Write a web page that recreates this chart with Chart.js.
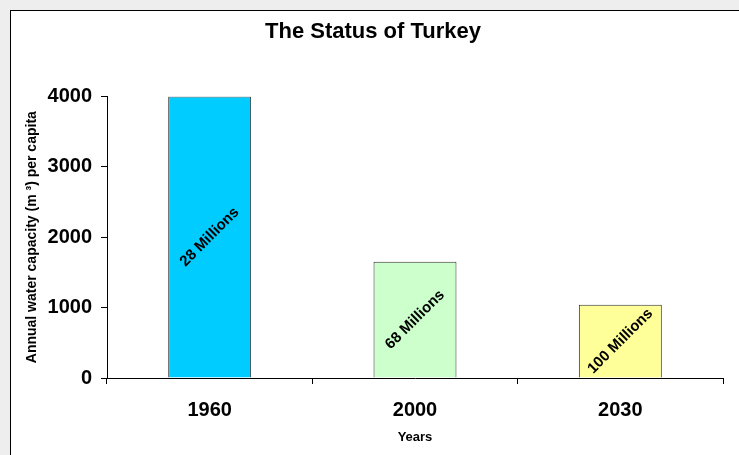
<!DOCTYPE html>
<html>
<head>
<meta charset="utf-8">
<script src="https://cdn.jsdelivr.net/npm/chart.js@4"></script>
<style>
  html, body { margin: 0; padding: 0; background: #eeeeee; }
  #wrap { width: 739px; height: 455px; }
</style>
</head>
<body>
<div id="wrap"><canvas id="chart"></canvas></div>
<script>
// data
const years = ['1960', '2000', '2030'];
const capacity = [4000, 1650, 1040];
const population = ['28 Millions', '68 Millions', '100 Millions'];
const barColors = ['#00ccff', '#ccffcc', '#ffff99'];
const yTicks = [0, 1000, 2000, 3000, 4000];

const FONT = "'Liberation Sans', Arial, sans-serif";

// grey page with the white framed panel behind everything
const framePlugin = {
  id: 'frame',
  beforeDraw(chart) {
    const ctx = chart.ctx;
    ctx.save();
    ctx.fillStyle = '#eeeeee';
    ctx.fillRect(0, 0, chart.width, chart.height);
    ctx.fillStyle = '#ffffff';
    ctx.fillRect(10, 10, chart.width, chart.height);
    ctx.strokeStyle = '#000000';
    ctx.lineWidth = 1;
    ctx.strokeRect(10.5, 10.5, chart.width + 10, chart.height + 10);
    ctx.restore();
  }
};

// rotated population labels in the middle of each bar
const barLabels = {
  id: 'barLabels',
  afterDatasetsDraw(chart) {
    const ctx = chart.ctx;
    const area = chart.chartArea;
    const meta = chart.getDatasetMeta(0);
    ctx.save();
    ctx.beginPath();
    ctx.rect(area.left, area.top, area.right - area.left, area.bottom - area.top);
    ctx.clip();
    ctx.font = 'bold 15px ' + FONT;
    ctx.fillStyle = '#000';
    ctx.textAlign = 'center';
    ctx.textBaseline = 'middle';
    meta.data.forEach((bar, i) => {
      const cy = (bar.y + bar.base) / 2;
      ctx.save();
      ctx.translate(bar.x, cy);
      ctx.rotate(-Math.PI / 4);
      ctx.fillText(population[i], 0, 0);
      ctx.restore();
    });
    ctx.restore();
  }
};

new Chart(document.getElementById('chart'), {
  type: 'bar',
  data: {
    labels: years,
    datasets: [{
      data: capacity,
      backgroundColor: barColors,
      borderColor: '#333333',
      borderWidth: 1,
      categoryPercentage: 1.0,
      barPercentage: 0.404
    }]
  },
  options: {
    responsive: true,
    maintainAspectRatio: false,
    animation: false,
    layout: { padding: { left: 23, right: 16, top: 0, bottom: 0 } },
    plugins: {
      legend: { display: false },
      tooltip: { enabled: false },
      title: {
        display: true,
        text: 'The Status of Turkey',
        color: '#000',
        font: { family: FONT, size: 22, weight: 'bold' },
        padding: { top: 19, bottom: 51 }
      }
    },
    scales: {
      x: {
        grid: { display: true, drawOnChartArea: false, color: '#000', tickLength: 6, offset: true },
        border: { display: true, color: '#000', width: 1 },
        ticks: { color: '#000', padding: 14, font: { family: FONT, size: 20, weight: 'bold' } },
        title: {
          display: true,
          text: 'Years',
          color: '#000',
          font: { family: FONT, size: 13, weight: 'bold' },
          padding: { top: 0, bottom: 10 }
        },
        afterFit(scale) { scale.height = 77; }
      },
      y: {
        min: 0,
        max: 4000,
        afterBuildTicks(scale) { scale.ticks = yTicks.map(v => ({ value: v })); },
        grid: { display: true, drawOnChartArea: false, color: '#000', tickLength: 6 },
        border: { display: true, color: '#000', width: 1 },
        ticks: {
          color: '#000',
          padding: 9,
          font: { family: FONT, size: 20, weight: 'bold' },
          callback: v => String(v)
        },
        title: {
          display: true,
          text: 'Annual water capacity (m ³) per capita',
          color: '#000',
          font: { family: FONT, size: 14, weight: 'bold' },
          padding: { top: 1, bottom: 0 }
        },
        afterFit(scale) { scale.width = 84; }
      }
    }
  },
  plugins: [framePlugin, barLabels]
});
</script>
</body>
</html>
